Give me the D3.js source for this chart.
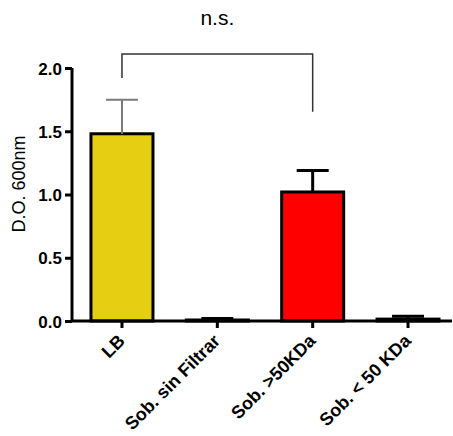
<!DOCTYPE html>
<html><head><meta charset="utf-8">
<script src="https://cdn.jsdelivr.net/npm/d3@7"></script>
<style>html,body{margin:0;padding:0;background:#fff;}svg{display:block;}</style>
</head><body>
<script>
const categories = ["LB", "Sob. sin Filtrar", "Sob. >50KDa", "Sob. < 50 KDa"];
const means = [1.48, 0.008, 1.02, 0.015];
const errors = [0.27, 0.012, 0.17, 0.022];
const colors = ["#e6cf12", "#ffffff", "#ff0000", "#ffffff"];
const errColors = ["#7a7a7a", "#000000", "#000000", "#000000"];
const yTicks = [0, 0.5, 1.0, 1.5, 2.0];
const yLabel = "D.O. 600nm";
const sigLabel = "n.s.";
const sigPair = ["LB", "Sob. >50KDa"];

const W = 453, H = 436;
const svg = d3.select("body").append("svg").attr("width", W).attr("height", H);
const font = "'Liberation Sans', Arial, sans-serif";

const y = d3.scaleLinear().domain([0, 2]).range([321, 68]);
const x = d3.scaleBand().domain(categories).range([74.3, 455.7]).paddingInner(0.34).paddingOuter(0.17);
const bw = 62;

// bars
svg.selectAll("rect.bar").data(categories).join("rect")
  .attr("x", d => x(d) + x.bandwidth()/2 - bw/2)
  .attr("y", (d,i) => y(means[i]))
  .attr("width", bw)
  .attr("height", (d,i) => y(0) - y(means[i]))
  .attr("fill", (d,i) => colors[i])
  .attr("stroke", "#000").attr("stroke-width", 3);

// error bars
categories.forEach((c, i) => {
  const cx = x(c) + x.bandwidth()/2;
  const top = y(means[i] + errors[i]);
  const g = svg.append("g").attr("stroke", errColors[i]).attr("stroke-width", i === 0 ? 2 : 3);
  g.append("line").attr("x1", cx).attr("x2", cx).attr("y1", y(means[i])).attr("y2", top);
  g.append("line").attr("x1", cx - 16).attr("x2", cx + 16).attr("y1", top).attr("y2", top);
});

// y axis
const yAxis = svg.append("g").attr("transform", "translate(72,0)")
  .call(d3.axisLeft(y).tickValues(yTicks).tickFormat(d3.format(".1f")).tickSize(7).tickPadding(3));
yAxis.select(".domain").attr("stroke-width", 3).attr("d", "M0," + (y(2)) + "V" + y(0));
yAxis.selectAll(".tick line").attr("stroke-width", 3);
yAxis.selectAll(".tick text").attr("font-family", font).attr("font-size", 17).attr("font-weight", "bold").attr("fill", "#000").attr("dy", "0.36em");

// x axis
const xAxis = svg.append("g").attr("transform", "translate(0,321)")
  .call(d3.axisBottom(x).tickSize(7).tickPadding(6));
xAxis.select(".domain").attr("stroke-width", 3).attr("d", "M72,0H452");
xAxis.selectAll(".tick line").attr("stroke-width", 3);
xAxis.selectAll(".tick text").attr("font-family", font).attr("font-size", 18).attr("font-weight", "bold").attr("fill", "#000")
  .attr("text-anchor", "end").attr("dy", 0)
  .attr("transform", "translate(4,21) rotate(-45)").attr("y", 0).attr("x", 0);

// y label
svg.append("text").attr("transform", "translate(25,184) rotate(-90)")
  .attr("text-anchor", "middle").attr("font-family", font).attr("font-size", 18).text(yLabel);

// significance bracket
const x1 = x(sigPair[0]) + x.bandwidth()/2, x2 = x(sigPair[1]) + x.bandwidth()/2;
svg.append("path").attr("fill", "none").attr("stroke", "#333").attr("stroke-width", 1.5)
  .attr("d", `M${x1},${y(1.92)}V${y(2.11)}H${x2}V${y(1.655)}`);
svg.append("text").attr("x", (x1 + x2)/2).attr("y", 25).attr("text-anchor", "middle")
  .attr("font-family", font).attr("font-size", 21).text(sigLabel);
</script>
</body></html>
